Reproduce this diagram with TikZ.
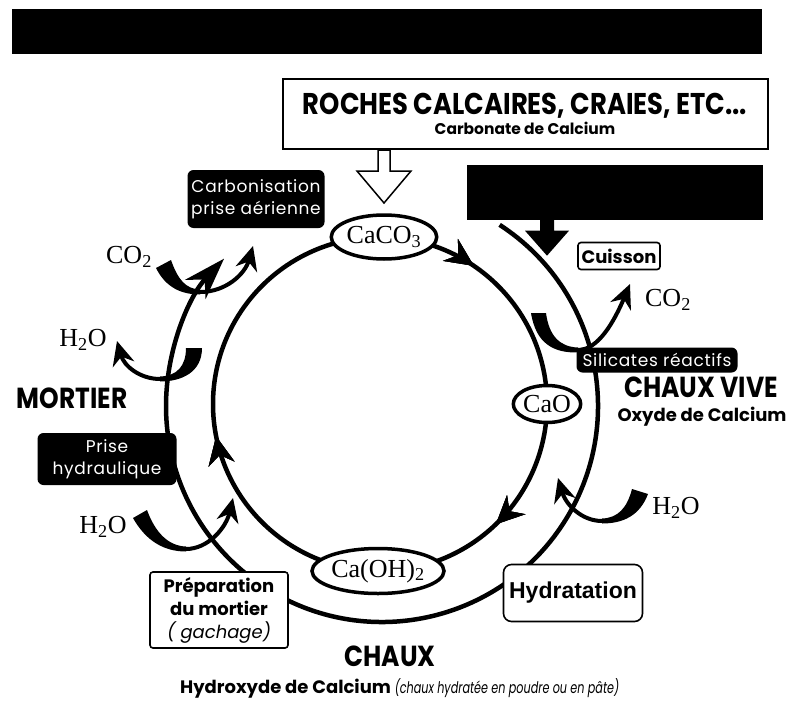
\documentclass[tikz,border=0pt]{standalone}
\usepackage{fontspec}
\usetikzlibrary{arrows.meta,shapes.geometric,decorations.markings}
\newfontfamily\geo{Poppins}
\newfontfamily\geospaced[LetterSpace=4]{Poppins}
\newfontfamily\geoheavy[FakeStretch=0.86]{Poppins}
\newfontfamily\geonarrow[FakeStretch=0.7]{Poppins}
\newfontfamily\chemfont{Liberation Serif}
\newfontfamily\helv{Liberation Sans}

\tikzset{
  blackbox/.style={fill=black,text=white,rounded corners=6pt,align=center,inner sep=0pt,
    font=\geospaced\fontsize{17}{22}\selectfont},
  framebox/.style={draw,line width=1.6pt,fill=white,rounded corners=3pt,align=center,inner sep=0pt},
  chem/.style={ellipse,draw,line width=3.5pt,fill=white,inner sep=0pt,
    font=\chemfont\fontsize{26}{28}\selectfont},
  serif/.style={inner sep=0pt,font=\chemfont\fontsize{26}{28}\selectfont},
  heading/.style={inner sep=0pt,font=\geoheavy\bfseries\fontsize{29}{31}\selectfont},
  sub/.style={inner sep=0pt,font=\geo\bfseries\fontsize{18}{20}\selectfont},
  ring/.style={line width=4.5pt},
  swhead/.style={line width=4pt,-{Stealth[length=24pt,width=22pt]}},
  midarrow/.style={postaction={decorate},decoration={markings,
    mark=at position #1 with {\arrow{Stealth[length=28pt,width=26pt]}}}}
}

\begin{document}
\begin{tikzpicture}[x=1pt,y=-1pt]
\path[use as bounding box] (0,0) rectangle (792,709);

% centres of the two rings
\coordinate (hub) at (380,404);
\coordinate (rim) at (382,406);

% inner cycle CaCO3 -> CaO -> Ca(OH)2
\draw[ring,midarrow=0.128,midarrow=0.469,midarrow=0.845] (hub) ++(167,0) arc[start angle=0,end angle=360,radius=167];

% outer cycle with the mortar
\draw[ring,-{Stealth[length=42pt,width=28pt]}] (rim) ++(-57:216) arc[start angle=-57,end angle=223,radius=216];

% swooshes: tapered tail, then thin arrow
\coordinate (cuis-m) at (578,350);
\coordinate (cuis-h) at (630,284);
\fill (531,313) .. controls (536,344) and (554,353) .. (578,352.5) -- (cuis-m)
  -- (578,347.5) .. controls (560,347) and (549,336) .. (546,313) -- cycle;
\draw[swhead] (cuis-m) .. controls (598,350) and (614,322) .. (cuis-h);

\coordinate (hydr-m) at (602,521);
\coordinate (hydr-h) at (558,478);
\fill (648,494) .. controls (640,515) and (624,523.5) .. (602,523.5) -- (hydr-m)
  -- (602,518.5) .. controls (618,518) and (627,508) .. (632,489) -- cycle;
\draw[swhead] (hydr-m) .. controls (582,521) and (566,505) .. (hydr-h);

\coordinate (evap-m) at (160,379);
\coordinate (evap-h) at (117,341);
\fill (202,348) .. controls (202,372) and (182,381.5) .. (160,381.5) -- (evap-m)
  -- (160,376.5) .. controls (177,376) and (186,366) .. (186,348) -- cycle;
\draw[swhead] (evap-m) .. controls (140,379) and (124,366) .. (evap-h);

\coordinate (gach-m) at (186,549);
\coordinate (gach-h) at (233,498);
\fill (133,518) .. controls (146,541) and (164,551.5) .. (186,551.5) -- (gach-m)
  -- (186,546.5) .. controls (168,546) and (155,532) .. (147,510) -- cycle;
\draw[swhead] (gach-m) .. controls (208,549) and (226,528) .. (gach-h);

\coordinate (carb-m) at (200,292);
\coordinate (carb-h) at (253,246);
\fill (156,268) .. controls (166,288) and (182,294.5) .. (200,294.5) -- (carb-m)
  -- (200,289.5) .. controls (186,289) and (178,280) .. (171,260) -- cycle;
\draw[swhead] (carb-m) .. controls (226,292) and (245,274) .. (carb-h);

% masked bands
\node[fill=black,minimum width=750pt,minimum height=45pt,inner sep=0pt] (mask1) at (387,32) {};
\node[fill=black,minimum width=296pt,minimum height=55pt,inner sep=0pt] (mask2) at (615,192) {};

% source rocks
\node[draw,line width=2pt,fill=white,minimum width=485pt,minimum height=70pt,inner sep=0pt,align=center] (roches) at (525,114)
  {{\geoheavy\bfseries\fontsize{30}{32}\selectfont ROCHES CALCAIRES, CRAIES, ETC...}\\[2pt]
   {\geo\bfseries\fontsize{15.5}{17}\selectfont Carbonate de Calcium}};

% chemical states
\node[chem,minimum width=96pt,minimum height=44pt] (caco) at (384,237) {CaCO\textsubscript{3}};
\node[chem,minimum width=64pt,minimum height=37pt] (cao) at (547,404) {CaO};
\node[chem,minimum width=112pt,minimum height=45pt] (caoh) at (378,571) {Ca(OH)\textsubscript{2}};

% block arrows
\draw[line width=1.5pt,fill=white] (roches.south -| caco.north) ++(-6,0) -- ++(0,21) -- ++(-21,0)
  -- ++(27,32) -- ++(27,-32) -- ++(-21,0) -- ++(0,-21) -- cycle;
\fill (mask2.south -| cao.north) ++(-7,0) -- ++(0,11) -- ++(-15,0) -- ++(22,25) -- ++(22,-25)
  -- ++(-15,0) -- ++(0,-11) -- cycle;

% process labels
\node[blackbox,minimum width=137pt,minimum height=58pt] (carbo) at (256,199) {Carbonisation\\prise aérienne};
\node[blackbox,minimum width=139pt,minimum height=52pt] (hydrau) at (107,459) {Prise\\hydraulique};
\node[blackbox,minimum width=161pt,minimum height=25pt] (silic) at (657,360) {Silicates réactifs};
\node[framebox,minimum width=82pt,minimum height=27pt,font=\geo\bfseries\fontsize{18}{20}\selectfont] (cuisson) at (619,256) {Cuisson};
\node[framebox,rounded corners=8pt,minimum width=139pt,minimum height=57pt,font=\helv\bfseries\fontsize{23}{25}\selectfont] (hydrat) at (573,593) {Hydratation};
\node[framebox,minimum width=138pt,minimum height=76pt,font=\geo\bfseries\fontsize{18}{23}\selectfont] (prep) at (219,610)
  {Préparation\\du mortier\\{\mdseries\itshape ( gachage)}};

% names of the products
\node[heading] (mortier) at (72,398) {MORTIER};
\node[heading] (vive) at (701,387) {CHAUX VIVE};
\node[sub] (oxyde) at (702,417) {Oxyde de Calcium};
\node[heading] (chaux) at (390,656) {CHAUX};
\node[sub,anchor=west] (hydroxyde) at (180,688)
  {Hydroxyde de Calcium {\geonarrow\mdseries\itshape\fontsize{16}{18}\selectfont (chaux hydratée en poudre ou en pâte)}};

% gases and water
\node[serif] (co2l) at (129,257) {CO\textsubscript{2}};
\node[serif] (h2otop) at (83,340) {H\textsubscript{2}O};
\node[serif] (h2obot) at (103,527) {H\textsubscript{2}O};
\node[serif] (co2r) at (668,300) {CO\textsubscript{2}};
\node[serif] (h2or) at (676,508) {H\textsubscript{2}O};
\end{tikzpicture}
\end{document}
